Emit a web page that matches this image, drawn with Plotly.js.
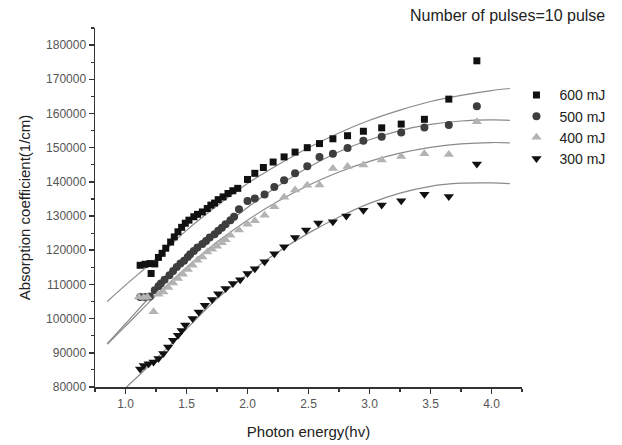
<!DOCTYPE html>
<html>
<head>
<meta charset="utf-8">
<script src="https://cdn.plot.ly/plotly-3.0.1.min.js"></script>
<style>html,body{margin:0;padding:0;background:#fff;}#chart{width:622px;height:445px;}</style>
</head>
<body>
<div id="chart"></div>
<script>
// ---- measured data: 600 mJ ----
const energy600 = [1.12, 1.16, 1.20, 1.21, 1.24, 1.27, 1.30, 1.33, 1.37, 1.40, 1.43, 1.46, 1.49, 1.52, 1.56, 1.59, 1.63, 1.67, 1.70, 1.73, 1.76, 1.80, 1.84, 1.88, 1.92, 2.00, 2.06, 2.13, 2.21, 2.30, 2.39, 2.49, 2.59, 2.70, 2.82, 2.95, 3.10, 3.26, 3.45, 3.65, 3.88];
const alpha600  = [115600, 115900, 116100, 113200, 116000, 117900, 119100, 120600, 122400, 123900, 125400, 126700, 127900, 128800, 129800, 130500, 131200, 132200, 133200, 133800, 134800, 135600, 136600, 137400, 138100, 140700, 142500, 144200, 145800, 147300, 148700, 150000, 151200, 152600, 153500, 154800, 155800, 156900, 158300, 164200, 175400];
// ---- measured data: 500 mJ ----
const energy500 = [1.12, 1.16, 1.20, 1.24, 1.27, 1.29, 1.32, 1.36, 1.39, 1.42, 1.45, 1.48, 1.51, 1.53, 1.56, 1.59, 1.63, 1.66, 1.69, 1.73, 1.76, 1.79, 1.82, 1.86, 1.89, 1.93, 2.00, 2.06, 2.14, 2.22, 2.30, 2.39, 2.49, 2.59, 2.70, 2.82, 2.95, 3.10, 3.26, 3.45, 3.65, 3.88];
const alpha500  = [106300, 106300, 106500, 108300, 109500, 110300, 111400, 112700, 113900, 115100, 116100, 116900, 118000, 118800, 119800, 120800, 121800, 122700, 123700, 124700, 125700, 126600, 127600, 128800, 129800, 132000, 134400, 135100, 136300, 138500, 140500, 142500, 144600, 147300, 148200, 149900, 152000, 153200, 154400, 155900, 156600, 162100];
// ---- measured data: 400 mJ ----
const energy400 = [1.11, 1.15, 1.18, 1.23, 1.27, 1.31, 1.35, 1.39, 1.43, 1.47, 1.51, 1.55, 1.59, 1.63, 1.67, 1.71, 1.75, 1.79, 1.82, 1.86, 1.93, 2.00, 2.06, 2.14, 2.22, 2.30, 2.39, 2.49, 2.59, 2.70, 2.82, 2.95, 3.10, 3.26, 3.45, 3.65, 3.88];
const alpha400  = [106300, 106200, 106300, 102000, 107100, 107800, 109100, 110400, 111700, 113000, 114400, 115600, 117100, 118000, 119500, 120300, 121200, 122200, 123100, 124400, 125900, 127600, 128600, 130200, 132700, 135500, 137600, 139000, 139100, 143900, 144500, 144900, 146400, 147400, 148200, 148000, 157600];
// ---- measured data: 300 mJ ----
const energy300 = [1.12, 1.15, 1.19, 1.23, 1.27, 1.31, 1.35, 1.39, 1.43, 1.46, 1.49, 1.55, 1.60, 1.65, 1.71, 1.76, 1.82, 1.88, 1.94, 2.00, 2.06, 2.14, 2.22, 2.30, 2.39, 2.48, 2.58, 2.70, 2.81, 2.95, 3.10, 3.26, 3.45, 3.65, 3.88];
const alpha300  = [85300, 86300, 86800, 87300, 88300, 89800, 91700, 93700, 95100, 96500, 98100, 100000, 101900, 103900, 105600, 107300, 108800, 110300, 111400, 113200, 114600, 116600, 119000, 121000, 123700, 125900, 128000, 128300, 130000, 131700, 133200, 134500, 136400, 135700, 145200];

// ---- fitted curves ----
const fitEnergy = [0.85, 1.0, 1.25, 1.5, 1.75, 2.0, 2.25, 2.5, 2.75, 3.0, 3.25, 3.5, 3.75, 4.0, 4.15];
const fit600 = [105000, 109800, 117500, 125800, 133000, 139500, 145000, 150000, 154300, 158000, 161000, 163500, 165300, 166700, 167300];
const fit500 = [92700, 98500, 108300, 117300, 125300, 132500, 138800, 144300, 148800, 152300, 155000, 156800, 157800, 158100, 158000];
const fit400 = [92500, 97800, 106800, 115000, 122400, 128800, 134300, 139000, 142900, 146000, 148400, 150100, 151100, 151500, 151400];
const fit300 = [74800, 79700, 88200, 97000, 105800, 113000, 119500, 125000, 129700, 133700, 136700, 138700, 139600, 139700, 139500];

const seriesNames = ['600 mJ', '500 mJ', '400 mJ', '300 mJ'];

const FONT = 'Liberation Sans, Arial, sans-serif';
const fitLine = {color: '#8a8a8a', width: 1.2, shape: 'spline'};

function fitTrace(y) {
  return {x: fitEnergy, y: y, mode: 'lines', line: fitLine, showlegend: false, hoverinfo: 'skip'};
}

const traces = [
  fitTrace(fit600), fitTrace(fit500), fitTrace(fit400), fitTrace(fit300),
  {x: energy600, y: alpha600, name: seriesNames[0], legendgroup: 'a', mode: 'markers',
   marker: {symbol: 'square', size: 7, color: '#111111'}},
  {x: energy500, y: alpha500, name: seriesNames[1], legendgroup: 'b', mode: 'markers',
   marker: {symbol: 'circle', size: 8, color: '#3e3e3e'}},
  {x: energy400, y: alpha400, name: seriesNames[2], legendgroup: 'c', mode: 'markers',
   marker: {symbol: 'triangle-up', size: 9, color: '#b3b3b3'}},
  {x: energy300, y: alpha300, name: seriesNames[3], legendgroup: 'd', mode: 'markers',
   marker: {symbol: 'triangle-down', size: 9, color: '#111111'}}
];

const layout = {
  width: 622, height: 445,
  margin: {l: 95, r: 87, t: 28, b: 58, pad: 0},
  paper_bgcolor: '#ffffff', plot_bgcolor: '#ffffff',
  font: {family: FONT, color: '#222'},
  showlegend: true,
  legend: {x: 0.98, xanchor: 'left', y: 0.857, yanchor: 'top', bgcolor: 'rgba(0,0,0,0)',
           itemwidth: 36,
           font: {family: FONT, size: 14, color: '#222'}, tracegroupgap: 3, traceorder: 'normal'},
  xaxis: {
    range: [0.75, 4.25], showgrid: false, zeroline: false,
    showline: true, linecolor: '#333', linewidth: 1.5,
    ticks: 'outside', ticklen: 5, tickwidth: 1.5, tickcolor: '#333',
    tick0: 1.0, dtick: 0.5, tickformat: '.1f',
    minor: {dtick: 0.25, ticklen: 3, tickwidth: 1.2, tickcolor: '#333', ticks: 'outside'},
    tickfont: {family: FONT, size: 12, color: '#555'},
    title: {text: 'Photon energy(hv)', font: {family: FONT, size: 15, color: '#222'}, standoff: 16}
  },
  yaxis: {
    range: [80000, 185000], showgrid: false, zeroline: false,
    showline: true, linecolor: '#333', linewidth: 1.5,
    ticks: 'outside', ticklen: 5, tickwidth: 1.5, tickcolor: '#333',
    tick0: 80000, dtick: 10000, tickformat: 'd',
    minor: {dtick: 5000, ticklen: 3, tickwidth: 1.2, tickcolor: '#333', ticks: 'outside'},
    tickfont: {family: FONT, size: 12, color: '#555'},
    title: {text: 'Absorption coefficient(1/cm)', font: {family: FONT, size: 15, color: '#222'}, standoff: 12}
  },
  annotations: [{
    text: 'Number of pulses=10 pulse', xref: 'paper', yref: 'paper',
    x: 1.2, xanchor: 'right', y: 1.035, yanchor: 'middle', showarrow: false,
    font: {family: FONT, size: 16, color: '#222'}
  }]
};

Plotly.newPlot('chart', traces, layout, {displayModeBar: false, staticPlot: true});
</script>
</body>
</html>
